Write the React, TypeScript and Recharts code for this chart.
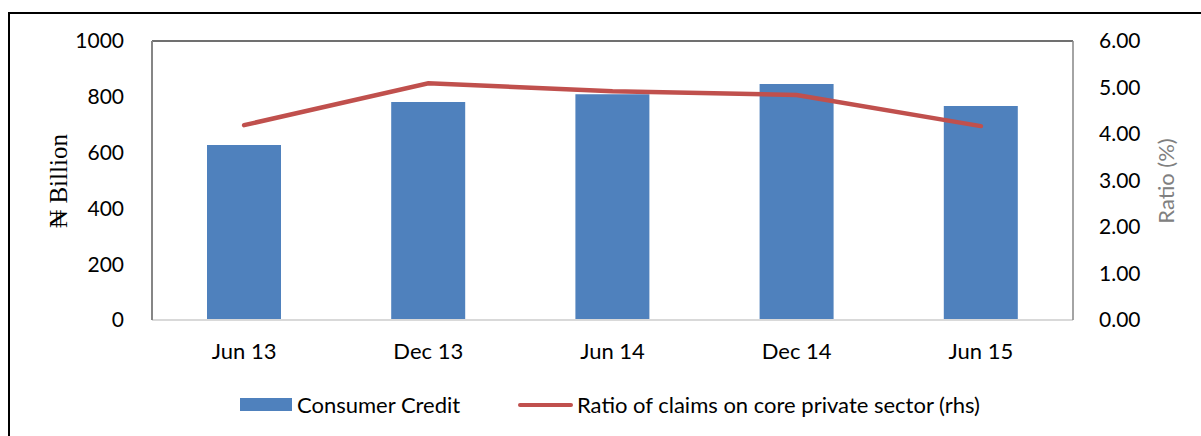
import React from "react";
import {
  ComposedChart,
  Bar,
  Line,
  XAxis,
  YAxis,
  ReferenceLine,
} from "recharts";

// periods on the x axis
const periods = ["Jun 13", "Dec 13", "Jun 14", "Dec 14", "Jun 15"];

// consumer credit, N billion (left axis)
const consumerCredit = [627, 781, 809, 846, 767];

// ratio of claims on core private sector, % (right axis)
const claimsRatio = [4.19, 5.09, 4.92, 4.84, 4.17];

const leftTicks = [0, 200, 400, 600, 800, 1000];
const rightTicks = [0, 1, 2, 3, 4, 5, 6];

const BLUE = "#4f81bd";
const RED = "#c0504d";
const FONT = "Lato, 'Open Sans', sans-serif";

const data = periods.map((period, i) => ({
  period,
  credit: consumerCredit[i],
  ratio: claimsRatio[i],
}));

const LeftLabel = () => (
  <text
    x={0}
    y={0}
    transform="translate(67, 181) rotate(-90)"
    textAnchor="middle"
    fontFamily="'Liberation Serif', 'Times New Roman', serif"
    fontSize={25}
    fill="#000"
  >
    ₦ Billion
  </text>
);

const RightLabel = () => (
  <text
    x={0}
    y={0}
    transform="translate(1174, 181) rotate(-90)"
    textAnchor="middle"
    fontFamily={FONT}
    fontSize={22}
    fill="#808080"
  >
    Ratio (%)
  </text>
);

export default function App() {
  return (
    <div
      style={{
        position: "absolute",
        left: 0,
        top: 0,
        width: 1201,
        height: 436,
        background: "#fff",
        overflow: "hidden",
      }}
    >
      {/* cut-off caption above the frame */}
      <div
        style={{
          position: "absolute",
          left: 9,
          top: -26,
          fontFamily: "'Liberation Serif', serif",
          fontSize: 26,
          lineHeight: "26px",
          whiteSpace: "nowrap",
        }}
      >
        Figure
      </div>

      {/* frame */}
      <div
        style={{
          position: "absolute",
          left: 8,
          top: 12,
          width: 1193,
          height: 424,
          borderLeft: "2px solid #000",
          borderTop: "2px solid #000",
        }}
      />

      <div style={{ position: "absolute", left: 0, top: 0 }}>
        <ComposedChart
          width={1201}
          height={436}
          data={data}
          margin={{ top: 41, right: 0, bottom: 86, left: 0 }}
        >
          <XAxis
            dataKey="period"
            axisLine={{ stroke: "#d9d9d9", strokeWidth: 2 }}
            tickLine={false}
            tick={{ fill: "#000", fontSize: 22, fontFamily: FONT }}
            tickMargin={17}
            height={30}
          />
          <YAxis
            yAxisId="left"
            width={152}
            domain={[0, 1000]}
            ticks={leftTicks}
            axisLine={{ stroke: "#868686", strokeWidth: 2 }}
            tickLine={false}
            tick={{ fill: "#000", fontSize: 21, fontFamily: FONT }}
            tickMargin={22}
            label={<LeftLabel />}
          />
          <YAxis
            yAxisId="right"
            orientation="right"
            width={128}
            domain={[0, 6]}
            ticks={rightTicks}
            tickFormatter={(v: number) => v.toFixed(2)}
            axisLine={{ stroke: "#868686", strokeWidth: 1.5 }}
            tickLine={false}
            tick={{ fill: "#000", fontSize: 21, fontFamily: FONT, textAnchor: "start" }}
            tickMargin={20}
            label={<RightLabel />}
          />
          <ReferenceLine yAxisId="left" y={1000} stroke="#404040" strokeWidth={1.5} />
          <Bar
            yAxisId="left"
            dataKey="credit"
            fill={BLUE}
            barSize={74}
            isAnimationActive={false}
          />
          <Line
            yAxisId="right"
            dataKey="ratio"
            stroke={RED}
            strokeWidth={4.5}
            strokeLinecap="round"
            dot={false}
            isAnimationActive={false}
          />
        </ComposedChart>
      </div>

      {/* legend */}
      <div
        style={{
          position: "absolute",
          left: 0,
          top: 391,
          width: 1201,
          height: 28,
          fontFamily: FONT,
          fontSize: 22,
          lineHeight: "28px",
          color: "#000",
          whiteSpace: "nowrap",
        }}
      >
        <span
          style={{ position: "absolute", left: 240, top: 7, width: 52, height: 13, background: BLUE }}
        />
        <span style={{ position: "absolute", left: 297, top: 0 }}>Consumer Credit</span>
        <span
          style={{
            position: "absolute",
            left: 518,
            top: 12,
            width: 55,
            height: 4,
            borderRadius: 2,
            background: RED,
          }}
        />
        <span style={{ position: "absolute", left: 577, top: 0 }}>
          Ratio of claims on core private sector (rhs)
        </span>
      </div>
    </div>
  );
}
